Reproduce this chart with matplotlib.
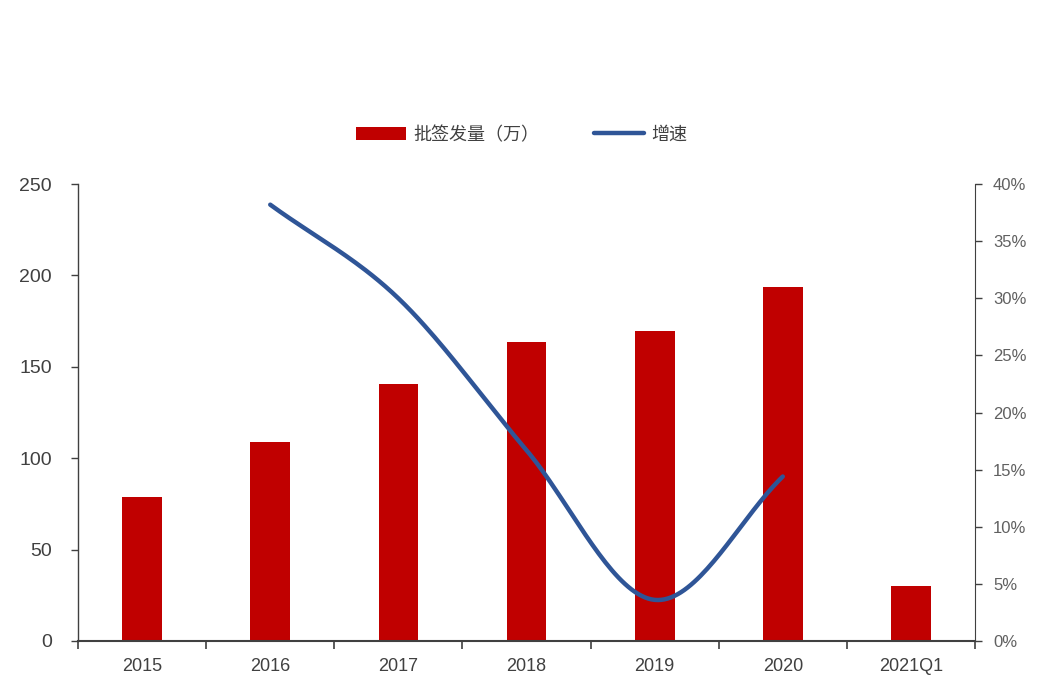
import numpy as np
import matplotlib.pyplot as plt

plt.rcParams['font.family'] = ['Liberation Sans', 'Noto Sans CJK SC', 'DejaVu Sans']

categories = ['2015', '2016', '2017', '2018', '2019', '2020', '2021Q1']
batches = [78.8, 108.9, 140.6, 163.6, 169.6, 193.7, 30.1]   # 批签发量（万）
growth_idx = [1, 2, 3, 4, 5]
growth = [38.2, 30.0, 16.7, 3.6, 14.4]                       # 增速 %


def catmull_rom(xs, ys, n=40):
    # smooth line through the points, like Excel's smoothed line
    xs = np.asarray(xs, float)
    ys = np.asarray(ys, float)
    px = np.concatenate([[2 * xs[0] - xs[1]], xs, [2 * xs[-1] - xs[-2]]])
    py = np.concatenate([[2 * ys[0] - ys[1]], ys, [2 * ys[-1] - ys[-2]]])
    outx, outy = [], []
    t = np.linspace(0, 1, n)
    for i in range(1, len(px) - 2):
        for arr, out in ((px, outx), (py, outy)):
            p0, p1, p2, p3 = arr[i - 1], arr[i], arr[i + 1], arr[i + 2]
            seg = 0.5 * ((2 * p1) + (-p0 + p2) * t
                         + (2 * p0 - 5 * p1 + 4 * p2 - p3) * t ** 2
                         + (-p0 + 3 * p1 - 3 * p2 + p3) * t ** 3)
            out.extend(seg)
    return np.array(outx), np.array(outy)


fig = plt.figure(figsize=(10.43, 7.0), dpi=100)
ax = fig.add_axes([0.0748, 0.0843, 0.8600, 0.6527])
x = np.arange(len(categories))
bars = ax.bar(x, batches, width=0.31, color='#C00000', label='批签发量（万）', zorder=2)

ax.set_xlim(-0.5, len(categories) - 0.5)
ax.set_ylim(0, 250)
ax.set_yticks(range(0, 251, 50))
ax.set_xticks(x)
ax.set_xticklabels(categories)
ax.set_xticks(np.arange(-0.5, len(categories)), minor=True)
ax.tick_params(axis='x', which='major', length=0, pad=12, labelsize=13, labelcolor='#404040')
ax.tick_params(axis='x', which='minor', length=6, width=1.2, color='#404040', direction='out')
ax.tick_params(axis='y', length=5, width=1, color='#404040', labelsize=14,
               labelcolor='#404040', pad=14)
ax.spines['top'].set_visible(False)
ax.spines['right'].set_visible(False)
for s in ('left', 'bottom'):
    ax.spines[s].set_color('#404040')
ax.spines['bottom'].set_linewidth(1.5)
ax.spines['left'].set_linewidth(1.0)

ax2 = ax.twinx()
sx, sy = catmull_rom(growth_idx, growth)
line, = ax2.plot(sx, sy, color='#2F5597', lw=3.2, solid_capstyle='round', label='增速', zorder=3)
ax2.set_ylim(0, 40)
ax2.set_yticks(range(0, 41, 5))
ax2.set_yticklabels([f'{v}%' for v in range(0, 41, 5)])
ax2.tick_params(axis='y', length=5, width=1, color='#404040', labelsize=12,
                labelcolor='#606060', pad=8)
ax2.spines['top'].set_visible(False)
ax2.spines['left'].set_visible(False)
ax2.spines['bottom'].set_visible(False)
ax2.spines['right'].set_color('#404040')

fig.legend(handles=[bars, line], labels=['批签发量（万）', '增速'],
           loc='center', bbox_to_anchor=(0.5, 0.807), ncol=2, frameon=False,
           fontsize=13, labelcolor='#404040', handlelength=2.8, handleheight=0.7,
           columnspacing=3.0, handletextpad=0.4)

fig.savefig('out.png', dpi=100, facecolor='white')
